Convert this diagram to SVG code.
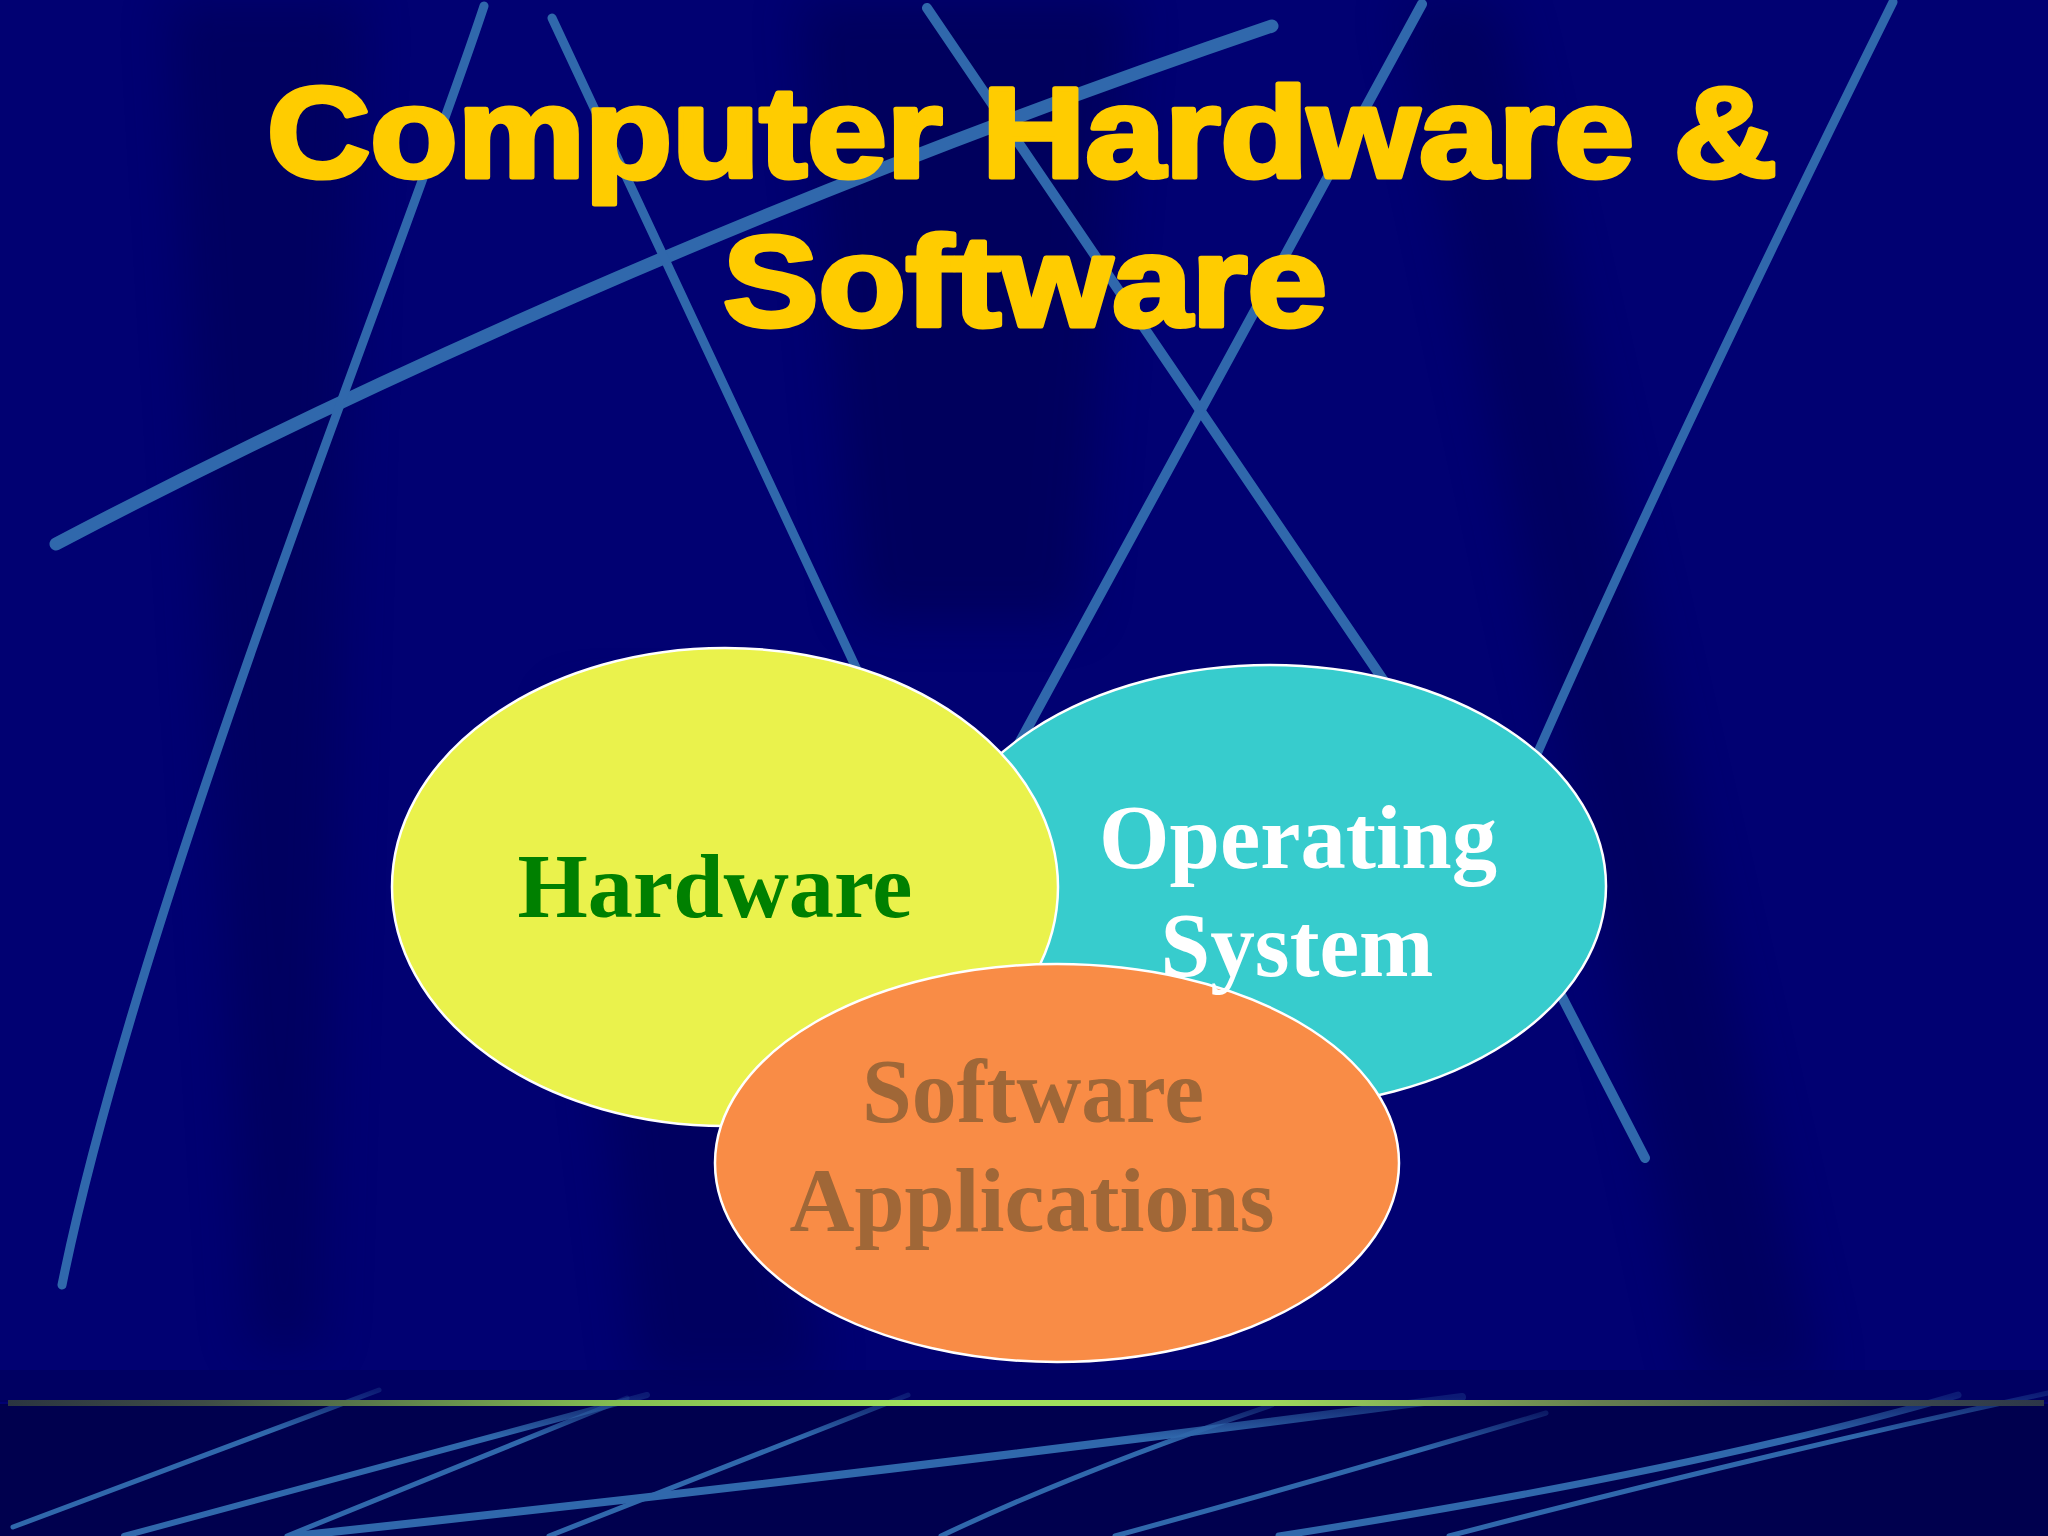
<svg xmlns="http://www.w3.org/2000/svg" width="2048" height="1536" viewBox="0 0 2048 1536">
  <defs>
    <style>
      .bgline { fill: none; stroke: #3068AC; stroke-linecap: round; }
      .floor { fill: none; stroke: url(#fadeTop); stroke-linecap: round; }
      .title { font-family: "Liberation Sans", Arial, sans-serif; font-weight: bold; font-size: 128px; fill: #FFCC00; stroke: #FFCC00; stroke-width: 5; stroke-linejoin: round; text-anchor: middle; }
      .label { font-family: "Liberation Serif", "Times New Roman", serif; font-weight: bold; font-size: 91px; text-anchor: middle; }
      .ell { stroke: #FFFFFF; stroke-width: 2.5; }
    </style>
    <filter id="soft" x="-20%" y="-20%" width="140%" height="140%">
      <feGaussianBlur stdDeviation="25"/>
    </filter>
    <linearGradient id="floorLine" x1="0" y1="0" x2="2048" y2="0" gradientUnits="userSpaceOnUse">
      <stop offset="0" stop-color="#2A3440"/>
      <stop offset="0.1" stop-color="#3E4C46"/>
      <stop offset="0.3" stop-color="#84BE52"/>
      <stop offset="0.45" stop-color="#A2E25E"/>
      <stop offset="0.62" stop-color="#9ED85C"/>
      <stop offset="0.78" stop-color="#667E50"/>
      <stop offset="0.92" stop-color="#3C4A4E"/>
      <stop offset="1" stop-color="#2C3648"/>
    </linearGradient>
    <linearGradient id="fadeL1" x1="56" y1="544" x2="1272" y2="26" gradientUnits="userSpaceOnUse">
      <stop offset="0" stop-color="#3068AC" stop-opacity="0.3"/>
      <stop offset="0.15" stop-color="#3068AC"/>
      <stop offset="0.85" stop-color="#3068AC"/>
      <stop offset="1" stop-color="#3068AC" stop-opacity="0.3"/>
    </linearGradient>
    <linearGradient id="fadeV" x1="0" y1="0" x2="0" y2="1">
      <stop offset="0" stop-color="#3068AC" stop-opacity="0.4"/>
      <stop offset="0.12" stop-color="#3068AC"/>
      <stop offset="0.85" stop-color="#3068AC"/>
      <stop offset="1" stop-color="#3068AC" stop-opacity="0.3"/>
    </linearGradient>
    <linearGradient id="fadeTop" x1="0" y1="0" x2="0" y2="1">
      <stop offset="0" stop-color="#3068AC" stop-opacity="0.25"/>
      <stop offset="0.3" stop-color="#3068AC"/>
      <stop offset="1" stop-color="#3068AC"/>
    </linearGradient>
  </defs>

  <!-- Background -->
  <g id="background">
    <rect x="0" y="0" width="2048" height="1536" fill="#010172"/>
    <g filter="url(#soft)" opacity="0.35">
      <polygon points="800,0 1130,0 1080,620 860,620" fill="#000038"/>
      <polygon points="170,0 360,0 320,1350 250,1350" fill="#000040"/>
      <polygon points="1400,0 1500,0 1820,1380 1700,1380" fill="#000040"/>
      <polygon points="560,700 700,700 820,1380 640,1380" fill="#000040"/>
    </g>
    <rect x="0" y="1370" width="2048" height="32" fill="#000058" opacity="0.6"/>
    <rect x="0" y="1404" width="2048" height="132" fill="#00004E"/>
  </g>

  <!-- Decorative lines -->
  <g id="decor-lines">
    <path class="bgline" d="M56,544 C330,400 760,200 1272,26" stroke="url(#fadeL1)" stroke-width="13"/>
    <path class="bgline" d="M484,6 C400,260 140,900 62,1285" stroke="url(#fadeV)" stroke-width="9"/>
    <path class="bgline" d="M552,18 L858,672" stroke-width="9"/>
    <path class="bgline" d="M927,8 L1390,690 L1560,993 L1645,1158" stroke="url(#fadeV)" stroke-width="10"/>
    <path class="bgline" d="M1422,4 L1010,760" stroke-width="10"/>
    <path class="bgline" d="M1893,2 C1780,230 1640,520 1530,770" stroke-width="9"/>
    <!-- floor lines -->
    <path class="floor" d="M379,1390 L13,1527" stroke-width="5"/>
    <path class="floor" d="M647,1395 L124,1536" stroke-width="6"/>
    <path class="floor" d="M627,1398 L287,1536" stroke-width="5"/>
    <path class="floor" d="M908,1395 L549,1536" stroke-width="5"/>
    <path class="floor" d="M1462,1397 Q870,1475 294,1536" stroke-width="8"/>
    <path class="floor" d="M1272,1405 Q1080,1470 941,1536" stroke-width="5"/>
    <path class="floor" d="M1546,1413 Q1320,1480 1115,1536" stroke-width="5"/>
    <path class="floor" d="M1958,1395 Q1700,1470 1279,1536" stroke-width="7"/>
    <path class="floor" d="M2048,1393 Q1760,1455 1449,1536" stroke-width="5"/>
    <rect x="8" y="1400" width="2036" height="6" fill="url(#floorLine)"/>
  </g>

  <!-- Title -->
  <g id="title">
    <text class="title" x="1022" y="177" textLength="1510" lengthAdjust="spacingAndGlyphs">Computer Hardware &amp;</text>
    <text class="title" x="1025" y="326" textLength="604" lengthAdjust="spacingAndGlyphs">Software</text>
  </g>

  <!-- Nodes -->
  <g id="node-os-shape">
    <ellipse class="ell" cx="1270" cy="886" rx="336" ry="221" fill="#37CCCD"/>
  </g>
  <g id="node-hardware">
    <ellipse class="ell" cx="725" cy="887" rx="333" ry="239" fill="#EAF24C"/>
    <text class="label" x="715" y="917" fill="#008000" textLength="395" lengthAdjust="spacingAndGlyphs">Hardware</text>
  </g>
  <g id="node-software-apps">
    <ellipse class="ell" cx="1057" cy="1163" rx="342" ry="199" fill="#F98C46"/>
    <text class="label" x="1033" y="1122" fill="#A06737" textLength="342" lengthAdjust="spacingAndGlyphs">Software</text>
    <text class="label" x="1032" y="1231" fill="#A06737" textLength="485" lengthAdjust="spacingAndGlyphs">Applications</text>
  </g>
  <g id="node-os">
    <text class="label" x="1298" y="868" fill="#FFFFFF" textLength="398" lengthAdjust="spacingAndGlyphs">Operating</text>
    <text class="label" x="1297" y="976" fill="#FFFFFF" textLength="273" lengthAdjust="spacingAndGlyphs">System</text>
  </g>

  <g id="connectors"/>
</svg>
